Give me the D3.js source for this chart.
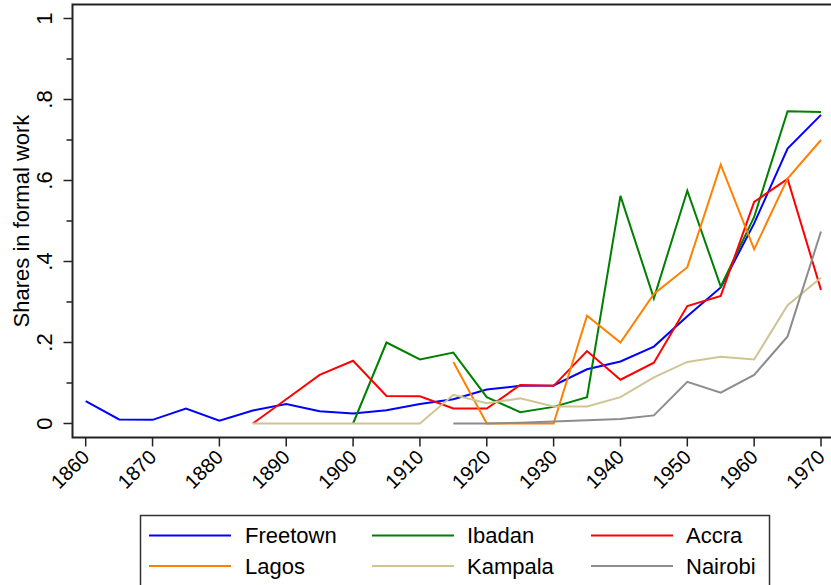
<!DOCTYPE html>
<html>
<head>
  <meta charset="utf-8">
  <title>Shares in formal work</title>
  <script src="https://d3js.org/d3.v7.min.js"></script>
</head>
<style>
  body { margin: 0; background: #fff; }
  text { font-family: 'Liberation Sans', Arial, Helvetica, sans-serif; fill: #000; }
</style>
<body>
  <div class="chart"></div>
  <script>
    // data, one value per 5 years (null = no data)
    var years = d3.range(1860, 1971, 5);
    var cities = ["Freetown", "Ibadan", "Accra", "Lagos", "Kampala", "Nairobi"];
    var colors = ["#0000ff", "#008000", "#ff0000", "#ff8000", "#cfc494", "#8c8c8c"];

    var freetown = [.055, .010, .009, .037, .007, .032, .048, .030, .025, .033, .048, .060,
                    .084, .093, .094, .134, .153, .190, .265, .336, .494, .679, .762];
    var ibadan   = [null, null, null, null, null, null, null, null, 0, .200, .158, .175,
                    .065, .028, .041, .065, .562, .309, .575, .338, .510, .771, .769];
    var accra    = [null, null, null, null, null, 0, .060, .120, .155, .068, .067, .037,
                    .037, .095, .093, .179, .108, .150, .290, .315, .547, .604, .330];
    var lagos    = [null, null, null, null, null, null, null, null, null, null, null, .152,
                    0, 0, 0, .266, .200, .320, .386, .639, .430, .605, .700];
    var kampala  = [null, null, null, null, null, 0, 0, 0, 0, 0, 0, .071,
                    .050, .062, .042, .042, .065, .114, .152, .165, .158, .292, .360];
    var nairobi  = [null, null, null, null, null, null, null, null, null, null, null, 0,
                    0, .002, .005, .008, .011, .020, .103, .076, .120, .215, .474];

    var series = [freetown, ibadan, accra, lagos, kampala, nairobi];
    var xTicks = d3.range(1860, 1971, 10);
    var yMajor = [0, .2, .4, .6, .8, 1];
    var yMinor = [.1, .3, .5, .7, .9];
    var yLabels = ["0", ".2", ".4", ".6", ".8", "1"];

    var W = 831, H = 585;
    var svg = d3.select(".chart").append("svg")
      .attr("width", W)
      .attr("height", H);

    var x = d3.scaleLinear().domain([1860, 1970]).range([85.7, 821]);
    var y = d3.scaleLinear().domain([0, 1]).range([423.5, 18.5]);

    var plotLeft = 72.5, plotTop = 4.5, plotBottom = 437.5, plotRight = 840;

    // plot region box (right edge falls outside the frame)
    svg.append("rect")
      .attr("x", plotLeft).attr("y", plotTop)
      .attr("width", plotRight - plotLeft).attr("height", plotBottom - plotTop)
      .attr("fill", "none")
      .attr("stroke", "#222")
      .attr("stroke-width", 2);

    // y axis ticks
    svg.selectAll(".ymaj").data(yMajor).enter().append("line")
      .attr("x1", plotLeft - 9).attr("x2", plotLeft)
      .attr("y1", function(d) { return y(d); })
      .attr("y2", function(d) { return y(d); })
      .attr("stroke", "#222").attr("stroke-width", 1.5);

    svg.selectAll(".ymin").data(yMinor).enter().append("line")
      .attr("x1", plotLeft - 6).attr("x2", plotLeft)
      .attr("y1", function(d) { return y(d); })
      .attr("y2", function(d) { return y(d); })
      .attr("stroke", "#222").attr("stroke-width", 1.5);

    svg.selectAll(".ylab").data(yMajor).enter().append("text")
      .attr("transform", function(d) { return "translate(52," + y(d) + ") rotate(-90)"; })
      .attr("text-anchor", "middle")
      .style("font-size", "22px")
      .text(function(d, i) { return yLabels[i]; });

    // y title
    svg.append("text")
      .attr("transform", "translate(28.5," + ((plotTop + plotBottom) / 2) + ") rotate(-90)")
      .attr("text-anchor", "middle")
      .style("font-size", "22px")
      .text("Shares in formal work");

    // x axis ticks
    svg.selectAll(".xt").data(xTicks).enter().append("line")
      .attr("x1", function(d) { return x(d); })
      .attr("x2", function(d) { return x(d); })
      .attr("y1", plotBottom).attr("y2", plotBottom + 9)
      .attr("stroke", "#222").attr("stroke-width", 1.5);

    svg.selectAll(".xlab").data(xTicks).enter().append("text")
      .attr("transform", function(d) { return "translate(" + (x(d) + 5) + ",458.5) rotate(-45)"; })
      .attr("text-anchor", "end")
      .style("font-size", "20px")
      .text(function(d) { return d; });

    // lines
    var line = d3.line()
      .defined(function(d) { return d != null; })
      .x(function(d, i) { return x(years[i]); })
      .y(function(d) { return y(d); });

    svg.selectAll(".series").data(series).enter().append("path")
      .attr("class", "series")
      .attr("fill", "none")
      .attr("stroke", function(d, i) { return colors[i]; })
      .attr("stroke-width", 2)
      .attr("stroke-linejoin", "miter")
      .attr("d", line);

    // legend
    var legend = svg.append("g");
    legend.append("rect")
      .attr("x", 140.5).attr("y", 515.5)
      .attr("width", 629).attr("height", 80)
      .attr("fill", "#fff")
      .attr("stroke", "#333")
      .attr("stroke-width", 1.5);

    var colX = [149, 372, 591], textX = [245, 467, 686], rowY = [535.5, 566];

    var item = legend.selectAll(".item").data(cities).enter().append("g")
      .attr("transform", function(d, i) {
        return "translate(0," + rowY[Math.floor(i / 3)] + ")";
      });

    item.append("line")
      .attr("x1", function(d, i) { return colX[i % 3]; })
      .attr("x2", function(d, i) { return colX[i % 3] + 82; })
      .attr("stroke", function(d, i) { return colors[i]; })
      .attr("stroke-width", 2);

    item.append("text")
      .attr("x", function(d, i) { return textX[i % 3]; })
      .attr("dy", "0.36em")
      .style("font-size", "22px")
      .text(function(d) { return d; });
  </script>
</body>
</html>
